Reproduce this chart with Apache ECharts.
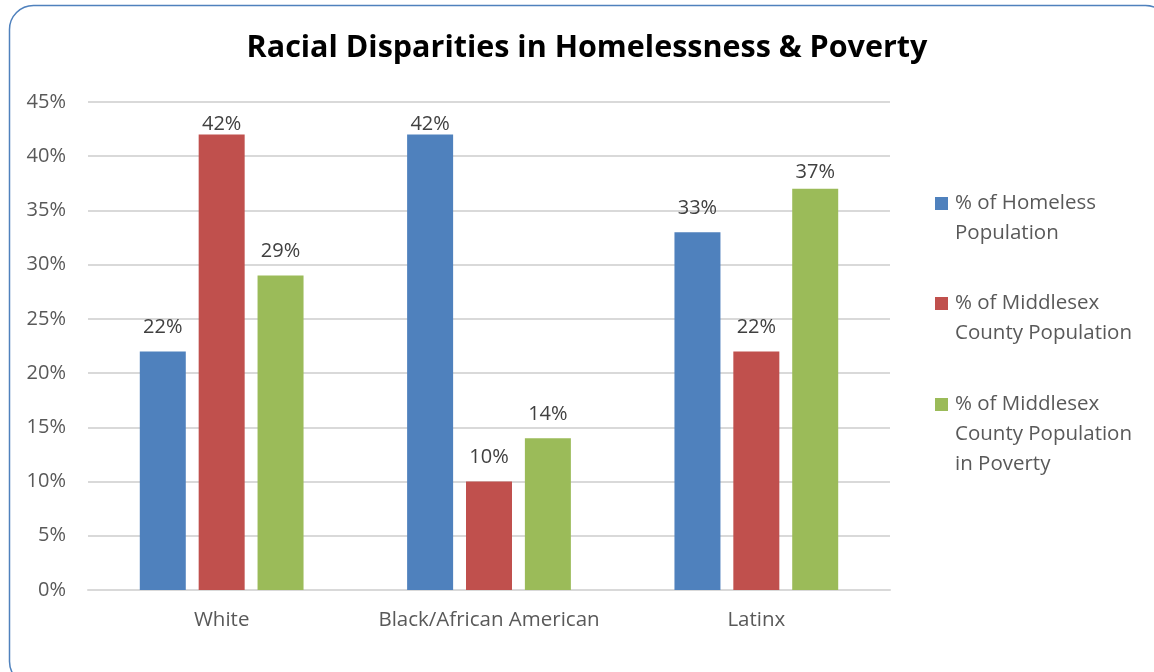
<!DOCTYPE html>
<html>
<head>
<meta charset="utf-8">
<script src="https://cdn.jsdelivr.net/npm/echarts@6/dist/echarts.min.js"></script>
<style>
  html, body { margin: 0; padding: 0; background: #fff; }
  #chart { width: 1154px; height: 672px; }
</style>
</head>
<body>
<div id="chart"></div>
<script>
// Racial groups along the x axis
const categories = ['White', 'Black/African American', 'Latinx'];

// Percent values per series
const homeless = [22, 42, 33];
const countyPop = [42, 10, 22];
const countyPoverty = [29, 14, 37];

// Legend texts (line-wrapped as shown)
const seriesNames = [
  '% of Homeless\nPopulation',
  '% of Middlesex\nCounty Population',
  '% of Middlesex\nCounty Population\nin Poverty'
];
const seriesColors = ['#4F81BD', '#C0504D', '#9BBB59'];
const seriesData = [homeless, countyPop, countyPoverty];

const FONT = '"Open Sans", sans-serif';

// Labels near the top of the plot are pulled closer to their bars
function labelGap(v) {
  if (v >= 40) return 0;
  if (v >= 35) return 6;
  return 14;
}

const chart = echarts.init(document.getElementById('chart'));

const legendTops = [188, 288, 389];
const legendGraphics = [];
seriesNames.forEach((name, i) => {
  legendGraphics.push({
    type: 'rect',
    left: 935, top: legendTops[i] + 9,
    shape: { width: 13, height: 13 },
    style: { fill: seriesColors[i] }
  });
  legendGraphics.push({
    type: 'text',
    left: 955, top: legendTops[i],
    style: {
      text: name,
      font: '20.5px ' + FONT,
      fill: '#595959',
      lineHeight: 30
    }
  });
});

chart.setOption({
  animation: false,
  textStyle: { fontFamily: FONT },
  title: {
    text: 'Racial Disparities in Homelessness & Poverty',
    left: 582, top: 28, textAlign: 'center',
    textStyle: { fontSize: 30.5, fontWeight: 'bold', color: '#000', fontFamily: FONT }
  },
  grid: { left: 88, right: 264, top: 102, bottom: 82, containLabel: false },
  xAxis: {
    type: 'category',
    data: categories,
    axisLine: { lineStyle: { color: '#d9d9d9', width: 2 } },
    axisTick: { show: false },
    axisLabel: {
      color: '#595959', fontSize: 20.5, margin: 20, fontFamily: FONT,
      interval: 0, hideOverlap: false
    }
  },
  yAxis: {
    type: 'value',
    min: 0, max: 45, interval: 5,
    axisLine: { show: false },
    axisTick: { show: false },
    axisLabel: {
      color: '#595959', fontSize: 20, margin: 22, fontFamily: FONT,
      formatter: v => v + '%'
    },
    splitLine: { lineStyle: { color: '#d9d9d9', width: 2 } }
  },
  series: seriesData.map((d, i) => ({
    type: 'bar',
    name: seriesNames[i],
    data: d.map(v => ({ value: v, label: { distance: labelGap(v) } })),
    barWidth: 46,
    barGap: '28%',
    itemStyle: { color: seriesColors[i] },
    label: {
      show: true, position: 'top',
      color: '#404040', fontSize: 20, fontFamily: FONT,
      formatter: p => p.value + '%'
    }
  })),
  graphic: [
    {
      type: 'rect',
      left: 7, top: 3,
      shape: { width: 1160, height: 680, r: 24 },
      style: { fill: 'none', stroke: '#4F81BD', lineWidth: 1.5 },
      silent: true
    },
    ...legendGraphics
  ]
});
</script>
</body>
</html>
